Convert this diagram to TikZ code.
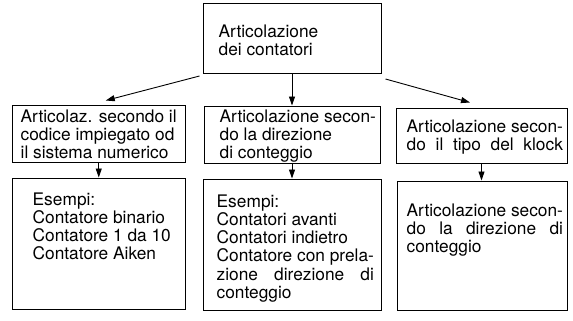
\documentclass[tikz,border=0pt]{standalone}
\usepackage{fontspec}
\setmainfont{TeX Gyre Heros}
\usetikzlibrary{calc,positioning,arrows.meta}
\newlength{\fillw}
\newcommand{\spreadline}[2]{\settowidth{\fillw}{#1}\makebox[\fillw][s]{#2}}
\tikzset{
  box/.style={draw, line width=1pt, inner sep=0pt},
  boxtext/.style={anchor=north west, inner sep=0pt, align=left, font=\fontsize{17.3}{18.2}\selectfont},
  link/.style={-{Triangle[length=9pt,width=6pt]}, line width=0.9pt},
}

\begin{document}
\begin{tikzpicture}[x=1pt,y=-1pt]
\useasboundingbox (0,0) rectangle (573,321);
\node [box, minimum width=178pt, minimum height=70pt] (top) at (292,38.5) {};
\node [box, minimum width=172.5pt, minimum height=57pt] (A) at (98.75,133.5) {};
\node [box, minimum width=176pt, minimum height=57pt] (B) at (292,134.5) {};
\node [box, minimum width=171pt, minimum height=55pt] (C) at (481.5,135.5) {};
\node [box, minimum width=173pt, minimum height=131pt] (A3) at (98.5,243.5) {};
\node [box, minimum width=178pt, minimum height=131pt] (B3) at (292,244.5) {};
\node [box, minimum width=170pt, minimum height=129pt] (C3) at (482,245.5) {};
\node [boxtext] (toptext) at ($(top.north west)+(16,21.5)$) {Articolazione\\dei contatori};
\node [boxtext] (Atext) at ($(A.north west)+(8.5,5)$) {Articolaz. secondo il\\codice impiegato od\\il sistema numerico};
\node [boxtext] (Btext) at ($(B.north west)+(16,4)$) {Articolazione secon-\\do la direzione\\di conteggio};
\node [boxtext] (Ctext) at ($(C.north west)+(11,12)$) {Articolazione secon-\\\spreadline{Articolazione secon-}{do il tipo del klock}};
\node [boxtext] (A3text) at ($(A3.north west)+(21,15)$) {Esempi:\\Contatore binario\\Contatore 1 da 10\\Contatore Aiken};
\node [boxtext] (B3text) at ($(B3.north west)+(14,16)$) {Esempi:\\Contatori avanti\\Contatori indietro\\Contatore con prela-\\\spreadline{Contatore con prela-}{zione direzione di}\\conteggio};
\node [boxtext] (C3text) at ($(C3.north west)+(10,23)$) {Articolazione secon-\\\spreadline{Articolazione secon-}{do la direzione di}\\conteggio};
\draw[link] ($(top.south west)+(-3,2)$) -- ($(A.north)+(7,-4)$);
\draw[link] (top.south) -- (B.north);
\draw[link] ($(top.south east)+(4,5)$) -- ($(C.north)+(-11.5,-5)$);
\draw[link] (A.south) -- (A.south |- A3.north);
\draw[link] (B.south) -- (B.south |- B3.north);
\draw[link] (C.south) -- (C.south |- C3.north);
\end{tikzpicture}
\end{document}
